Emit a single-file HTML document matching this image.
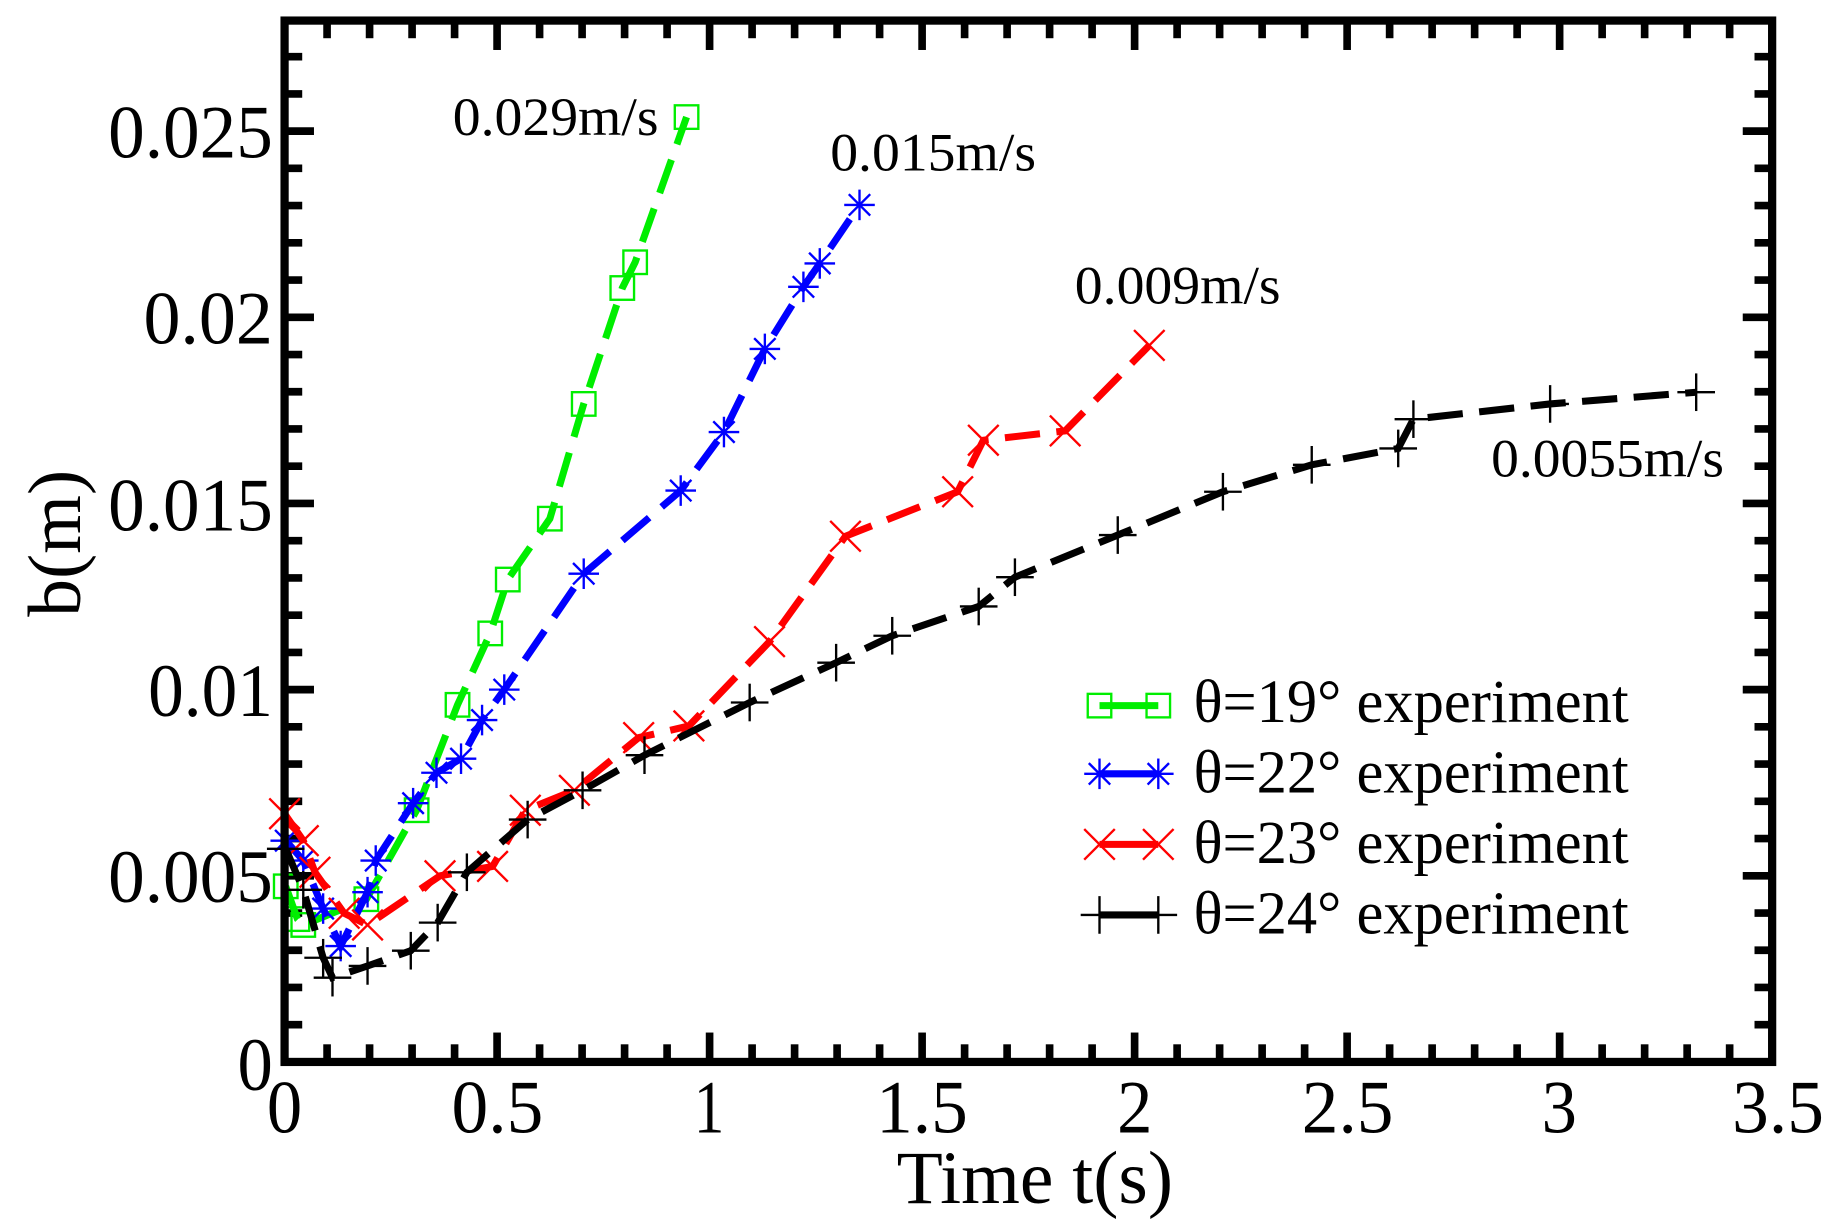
<!DOCTYPE html>
<html><head><meta charset="utf-8"><style>html,body{margin:0;padding:0;background:#fff}svg{display:block}text{font-family:"Liberation Serif","Times New Roman",serif}</style></head>
<body>
<svg id="s" width="1834" height="1226" viewBox="0 0 1559.6 1042.5" preserveAspectRatio="none" xmlns="http://www.w3.org/2000/svg">
<rect width="1559.6" height="1042.5" fill="#fff"/>
<g id="ticks" stroke="#000" stroke-width="6.5"></g>
<g id="series"></g>
<rect x="242" y="17.5" width="1265" height="885.5" fill="none" stroke="#000" stroke-width="7"/>
<g font-size="64" fill="#000" text-anchor="end">
<text x="232" y="134" textLength="140" lengthAdjust="spacingAndGlyphs">0.025</text>
<text x="232" y="292" textLength="110" lengthAdjust="spacingAndGlyphs">0.02</text>
<text x="232" y="451" textLength="140" lengthAdjust="spacingAndGlyphs">0.015</text>
<text x="232" y="609" textLength="106" lengthAdjust="spacingAndGlyphs">0.01</text>
<text x="232" y="767" textLength="140" lengthAdjust="spacingAndGlyphs">0.005</text>
<text x="232" y="927" textLength="30" lengthAdjust="spacingAndGlyphs">0</text>
</g>
<g font-size="64" fill="#000" text-anchor="middle">
<text x="242" y="963" textLength="30" lengthAdjust="spacingAndGlyphs">0</text>
<text x="423" y="963" textLength="78" lengthAdjust="spacingAndGlyphs">0.5</text>
<text x="603" y="963" textLength="26" lengthAdjust="spacingAndGlyphs">1</text>
<text x="784" y="963" textLength="78" lengthAdjust="spacingAndGlyphs">1.5</text>
<text x="965" y="963" textLength="30" lengthAdjust="spacingAndGlyphs">2</text>
<text x="1146" y="963" textLength="78" lengthAdjust="spacingAndGlyphs">2.5</text>
<text x="1326" y="963" textLength="30" lengthAdjust="spacingAndGlyphs">3</text>
<text x="1512" y="963" textLength="78" lengthAdjust="spacingAndGlyphs">3.5</text>
<text x="880" y="1023" textLength="235" lengthAdjust="spacingAndGlyphs">Time t(s)</text>
<text x="0" y="0" transform="translate(68,462) rotate(-90)" textLength="125" lengthAdjust="spacingAndGlyphs">b(m)</text>
</g>
<g font-size="46" fill="#000">
<text x="385" y="115" textLength="175" lengthAdjust="spacingAndGlyphs">0.029m/s</text>
<text x="706" y="145" textLength="175" lengthAdjust="spacingAndGlyphs">0.015m/s</text>
<text x="914" y="258" textLength="175" lengthAdjust="spacingAndGlyphs">0.009m/s</text>
<text x="1268" y="405" textLength="198" lengthAdjust="spacingAndGlyphs">0.0055m/s</text>
</g>
<g font-size="52" fill="#000">
<text x="1015" y="614" textLength="370" lengthAdjust="spacingAndGlyphs">θ=19° experiment</text>
<text x="1015" y="674" textLength="370" lengthAdjust="spacingAndGlyphs">θ=22° experiment</text>
<text x="1015" y="734" textLength="370" lengthAdjust="spacingAndGlyphs">θ=23° experiment</text>
<text x="1015" y="794" textLength="370" lengthAdjust="spacingAndGlyphs">θ=24° experiment</text>
</g>
</svg>
<script>
var NS="http://www.w3.org/2000/svg";
function el(p,t,a){var e=document.createElementNS(NS,t);for(var k in a)e.setAttribute(k,a[k]);p.appendChild(e);return e;}
var T=document.getElementById('ticks');
var L=242,R=1507,Tp=17.5,B=903;
for(var i=0;i<=35;i++){var x=L+i*(R-L)/35;var len=(i%5==0)?25:15;
 el(T,'line',{x1:x,y1:B,x2:x,y2:B-len});el(T,'line',{x1:x,y1:Tp,x2:x,y2:Tp+len});}
var py=(B-111.5)/25;
for(var j=0;j<=28;j++){var y=B-j*py;if(y<Tp+2)break;var len=(j%5==0)?25:15;
 el(T,'line',{x1:L,y1:y,x2:L+len,y2:y});el(T,'line',{x1:R,y1:y,x2:R-len,y2:y});}
var S=document.getElementById('series');
function tx(q){return [242+(q[0]-242)*(1265/1273), 903-(907-q[1])*(791.5/795)];}
var data=[
 {c:'#00ee00',m:'sq',p:[[243,757],[253,785],[258,790],[312,768],[355,692],[390,602],[418,541],[433,495],[469,443],[498,345],[531,246],[542,224],[586,100]]},
 {c:'#0000ff',m:'st',p:[[243,718],[258,735],[275,776],[290,808],[313,762],[320,735],[352,686],[372,660],[393,648],[411,615],[430,589],[498,490],[581,419],[618,369],[653,298],[686,245],[700,225],[734,175]]},
 {c:'#ff0000',m:'x',p:[[242,695],[258,718],[268,745],[293,780],[313,790],[375,748],[420,740],[448,692],[490,675],[545,630],[588,620],[657,548],[722,458],[818,420],[840,376],[910,368],[982,295]]},
 {c:'#000000',m:'pl',p:[[243,725],[258,760],[275,818],[283,835],[313,825],[350,812],[373,788],[398,745],[450,700],[497,675],[550,645],[640,600],[714,566],[762,543],[836,518],[867,493],[955,457],[1045,420],[1121,397],[1195,383],[1208,358],[1325,345],[1450,335]]}
];
function marker(g,m,x,y,c){
 var a={stroke:c,'stroke-width':2,fill:'none'};
 if(m=='sq'){a.x=x-10;a.y=y-10;a.width=20;a.height=20;el(g,'rect',a);}
 else if(m=='st'){var r=13;[[r,0],[0,r],[r*.7,r*.7],[r*.7,-r*.7]].forEach(function(d){el(g,'line',Object.assign({x1:x-d[0],y1:y-d[1],x2:x+d[0],y2:y+d[1]},a));});}
 else if(m=='x'){var r=13;[[r,r],[r,-r]].forEach(function(d){el(g,'line',Object.assign({x1:x-d[0],y1:y-d[1],x2:x+d[0],y2:y+d[1]},a));});}
 else {var r=16;[[r,0],[0,r]].forEach(function(d){el(g,'line',Object.assign({x1:x-d[0],y1:y-d[1],x2:x+d[0],y2:y+d[1]},a));});}
}
var ly=[600,658,718,778];
data.forEach(function(s,k){
 var g=el(S,'g',{});
 var pts=s.p.map(tx);
 el(g,'polyline',{points:pts.map(function(q){return q.join(',')}).join(' '),fill:'none',stroke:s.c,'stroke-width':6,'stroke-dasharray':'30 14'});
 pts.forEach(function(q){marker(g,s.m,q[0],q[1],s.c);});
 el(g,'line',{x1:935,y1:ly[k],x2:985,y2:ly[k],stroke:s.c,'stroke-width':6});
 marker(g,s.m,935,ly[k],s.c);marker(g,s.m,985,ly[k],s.c);
});
</script>
</body></html>
